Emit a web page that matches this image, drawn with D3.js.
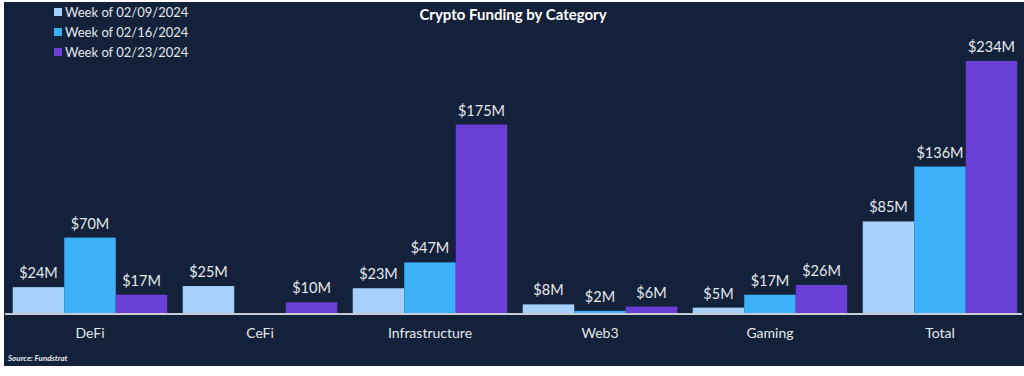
<!DOCTYPE html>
<html>
<head>
<meta charset="utf-8">
<script src="https://cdn.jsdelivr.net/npm/d3@7"></script>
<style>
  html, body { margin: 0; padding: 0; background: #fff; }
  svg { display: block; }
</style>
</head>
<body>
<svg id="chart"></svg>
<script>
const categories = ['DeFi', 'CeFi', 'Infrastructure', 'Web3', 'Gaming', 'Total'];
const seriesNames = ['Week of 02/09/2024', 'Week of 02/16/2024', 'Week of 02/23/2024'];
const week0209 = [24, 25, 23, 8, 5, 85];
const week0216 = [70, 0, 47, 2, 17, 136];
const week0223 = [17, 10, 175, 6, 26, 234];
const seriesColors = ['#a6d0fa', '#3cb0f9', '#6a3fd5'];

const W = 1024, H = 376;
const baseY = 313;
const font = 'Lato, "Open Sans", sans-serif';
const textColor = '#e6e8ec';

const svg = d3.select('#chart').attr('width', W).attr('height', H);

// dark panel
svg.append('rect')
  .attr('x', 4).attr('y', 2)
  .attr('width', 1020).attr('height', 364)
  .attr('fill', '#13213a');

const allSeries = [week0209, week0216, week0223];
const data = categories.map((c, i) => ({
  category: c,
  values: seriesNames.map((s, k) => ({ key: s, value: allSeries[k][i], idx: k }))
}));

const x0 = d3.scaleBand()
  .domain(categories)
  .range([5, 1025])
  .paddingInner(0.091)
  .paddingOuter(0.0455);

const x1 = d3.scaleBand()
  .domain(seriesNames)
  .range([0, x0.bandwidth()]);

const y = d3.scaleLinear()
  .domain([0, 234])
  .range([baseY, 61]);

const color = d3.scaleOrdinal().domain(seriesNames).range(seriesColors);

const groups = svg.selectAll('g.group')
  .data(data)
  .enter()
  .append('g')
  .attr('class', 'group')
  .attr('transform', d => `translate(${x0(d.category)},0)`);

groups.selectAll('rect')
  .data(d => d.values.filter(v => v.value > 0))
  .enter()
  .append('rect')
  .attr('x', d => x1(d.key))
  .attr('y', d => y(d.value))
  .attr('width', x1.bandwidth())
  .attr('height', d => baseY - y(d.value))
  .attr('fill', d => color(d.key));

groups.selectAll('text.val')
  .data(d => d.values.filter(v => v.value > 0))
  .enter()
  .append('text')
  .attr('class', 'val')
  .attr('x', d => x1(d.key) + x1.bandwidth() / 2)
  .attr('y', d => y(d.value) - 9)
  .attr('text-anchor', 'middle')
  .style('font-family', font)
  .style('font-size', '14.5px')
  .style('fill', textColor)
  .text(d => `$${d.value}M`);

// baseline
svg.append('line')
  .attr('x1', 5).attr('x2', 1022)
  .attr('y1', baseY + 1).attr('y2', baseY + 1)
  .attr('stroke', '#c9ccd2')
  .attr('stroke-width', 2);

// category axis
const xAxis = svg.append('g')
  .attr('transform', `translate(0,${baseY + 2})`)
  .call(d3.axisBottom(x0).tickSize(0).tickPadding(13));
xAxis.select('.domain').remove();
xAxis.selectAll('text')
  .style('font-family', font)
  .style('font-size', '14px')
  .style('fill', textColor);

// title
svg.append('text')
  .attr('x', 513).attr('y', 20)
  .attr('text-anchor', 'middle')
  .style('font-family', font)
  .style('font-size', '15px')
  .style('font-weight', 'bold')
  .style('fill', '#ffffff')
  .text('Crypto Funding by Category');

// legend
const legend = svg.append('g').attr('transform', 'translate(54,8)');
const li = legend.selectAll('g')
  .data(seriesNames)
  .enter()
  .append('g')
  .attr('transform', (d, i) => `translate(0,${i * 20})`);
li.append('rect')
  .attr('width', 8).attr('height', 8)
  .attr('fill', d => color(d));
li.append('text')
  .attr('x', 11).attr('y', 9)
  .style('font-family', font)
  .style('font-size', '13px')
  .style('fill', textColor)
  .text(d => d);

// source
svg.append('text')
  .attr('x', 8).attr('y', 361)
  .style('font-family', font)
  .style('font-size', '8px')
  .style('font-weight', 'bold')
  .style('font-style', 'italic')
  .style('fill', '#e6e8ec')
  .text('Source: Fundstrat');
</script>
</body>
</html>
